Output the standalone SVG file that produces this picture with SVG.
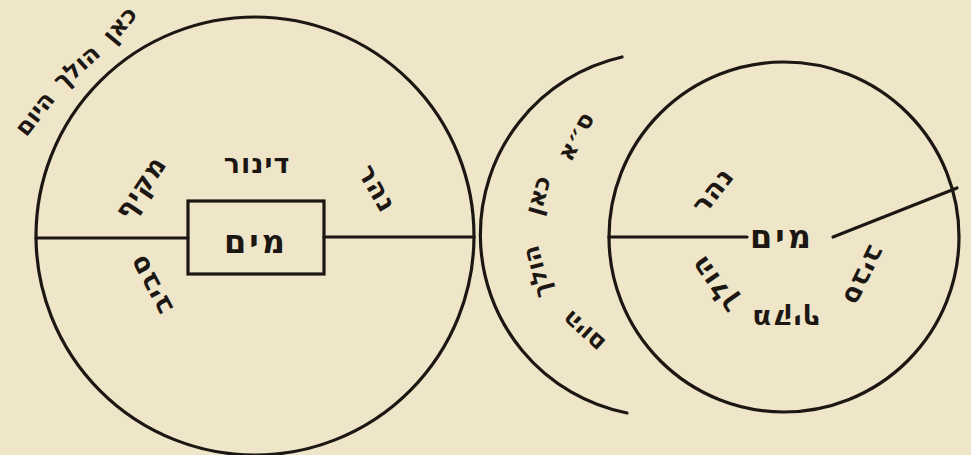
<svg xmlns="http://www.w3.org/2000/svg" width="971" height="455" viewBox="0 0 971 455">
<style>
.ln{fill:none;stroke:#1c1712;stroke-width:3.2;stroke-linecap:round}
.t{font-family:"DejaVu Sans","Liberation Sans",sans-serif;font-weight:bold;fill:#1c1712;text-anchor:middle;direction:rtl;font-size:27px;letter-spacing:1px}
.s{font-size:24px;letter-spacing:0}
.b{font-size:32px;letter-spacing:3px}
</style>
<rect width="971" height="455" fill="#efe6c9"/>
<g id="left-circle">
<circle class="ln" cx="255" cy="236" r="219"/>
<rect class="ln" x="188" y="201" width="136" height="73"/>
<text class="t b" x="256" y="253">מים</text>
<text class="t" x="257" y="173">דינור</text>
<text class="t" transform="translate(140 187) rotate(-56)" y="10">מקיף</text>
<text class="t" transform="translate(378 188) rotate(60)" y="10">נהר</text>
<text class="t" transform="translate(150 285) rotate(-118)" y="10">סביב</text>
</g>
<g id="top-label">
<text class="t s" transform="translate(119 24) rotate(-50)" y="9">כאן</text>
<text class="t s" transform="translate(76 66) rotate(-42)" y="9">הולך</text>
<text class="t s" transform="translate(34 113) rotate(-52)" y="9">היום</text>
</g>
<g id="crescent">
<path class="ln" d="M622 57 A182 182 0 0 0 627 413"/>
<text class="t s" transform="translate(575 136) rotate(-62)" y="9">ס״א</text>
<text class="t s" transform="translate(537 195) rotate(-74)" y="9">כאן</text>
<text class="t s" transform="translate(536 272) rotate(-105)" y="9">הולך</text>
<text class="t s" transform="translate(583 332) rotate(-138)" y="9">היום</text>
</g>
<g id="right-circle">
<circle class="ln" cx="784" cy="237" r="175"/>
<text class="t b" x="782" y="248">מים</text>
<text class="t" transform="translate(712 190) rotate(-52)" y="10">נהר</text>
<text class="t" transform="translate(714 285) rotate(-125)" y="10">הולך</text>
<text class="t" transform="translate(786 320) rotate(180)" y="10">מקיף</text>
<text class="t" transform="translate(865 276) rotate(116)" y="10">סביב</text>
</g>
<g id="connectors">
<line class="ln" x1="36" y1="238" x2="188" y2="238"/>
<line class="ln" x1="324" y1="237" x2="474" y2="237"/>
<line class="ln" x1="609" y1="237" x2="747" y2="237"/>
<line class="ln" x1="833" y1="237" x2="957" y2="188"/>
</g>
</svg>
